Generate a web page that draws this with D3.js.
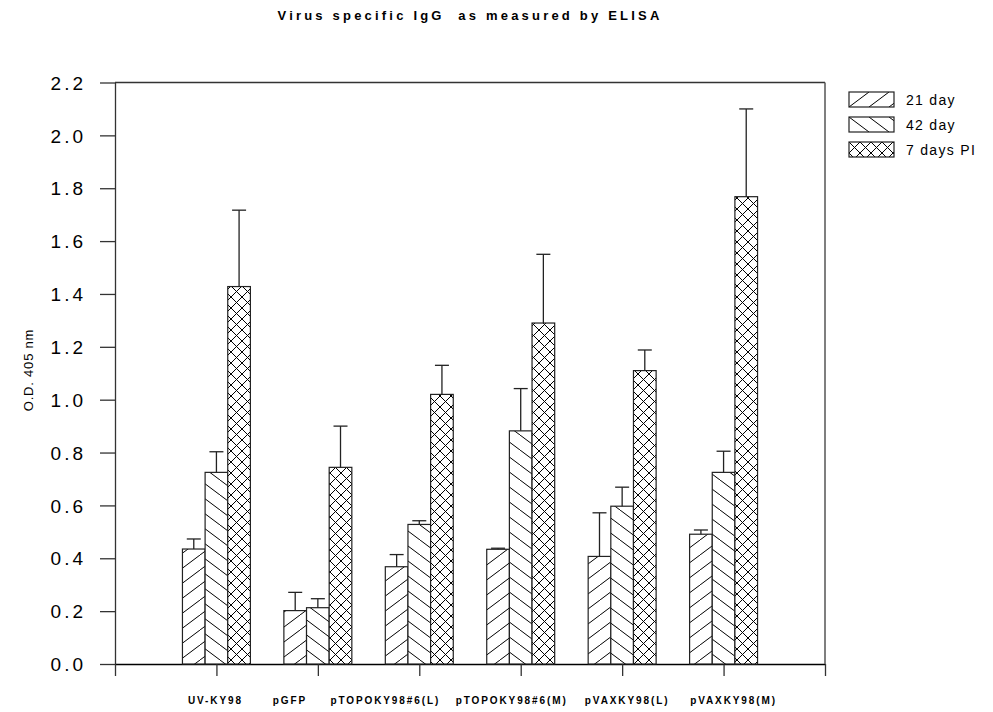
<!DOCTYPE html>
<html>
<head>
<meta charset="utf-8">
<script src="https://cdn.jsdelivr.net/npm/d3@7"></script>
<style>
  body { margin: 0; background: #fff; }
  text { font-family: "Liberation Sans", Arial, sans-serif; fill: #000; }
</style>
</head>
<body>
<div id="chart"></div>
<script>
// data
var groups = ["UV-KY98", "pGFP", "pTOPOKY98#6(L)", "pTOPOKY98#6(M)", "pVAXKY98(L)", "pVAXKY98(M)"];
var seriesNames = ["21 day", "42 day", "7 days PI"];
var day21 = [0.435, 0.202, 0.368, 0.434, 0.407, 0.491];
var day21Err = [0.038, 0.069, 0.046, 0.004, 0.165, 0.016];
var day42 = [0.725, 0.213, 0.528, 0.882, 0.597, 0.725];
var day42Err = [0.078, 0.034, 0.014, 0.160, 0.072, 0.080];
var day7PI = [1.428, 0.744, 1.020, 1.290, 1.110, 1.768];
var day7PIErr = [0.289, 0.156, 0.110, 0.260, 0.078, 0.332];
var yTicks = [0, 0.2, 0.4, 0.6, 0.8, 1.0, 1.2, 1.4, 1.6, 1.8, 2.0, 2.2];

var values = [day21, day42, day7PI];
var errs = [day21Err, day42Err, day7PIErr];
var patterns = ["p21", "p42", "p7"];

var width = 993, height = 712;
var svg = d3.select("#chart").append("svg")
  .attr("width", width).attr("height", height);

var defs = svg.append("defs");
// forward hatch
var p = defs.append("pattern").attr("id", "p21").attr("patternUnits", "userSpaceOnUse")
  .attr("width", 20).attr("height", 15);
p.append("rect").attr("width", 20).attr("height", 15).attr("fill", "#fff");
p.append("line").attr("x1", 0).attr("y1", 15).attr("x2", 20).attr("y2", 0).attr("stroke", "#000").attr("stroke-width", 1);
// back hatch
p = defs.append("pattern").attr("id", "p42").attr("patternUnits", "userSpaceOnUse")
  .attr("width", 20).attr("height", 15);
p.append("rect").attr("width", 20).attr("height", 15).attr("fill", "#fff");
p.append("line").attr("x1", 0).attr("y1", 0).attr("x2", 20).attr("y2", 15).attr("stroke", "#000").attr("stroke-width", 1);
// crosshatch
p = defs.append("pattern").attr("id", "p7").attr("patternUnits", "userSpaceOnUse")
  .attr("width", 11).attr("height", 11);
p.append("rect").attr("width", 11).attr("height", 11).attr("fill", "#fff");
p.append("line").attr("x1", 0).attr("y1", 0).attr("x2", 11).attr("y2", 11).attr("stroke", "#000");
p.append("line").attr("x1", 0).attr("y1", 11).attr("x2", 11).attr("y2", 0).attr("stroke", "#000");

var x = d3.scaleLinear().domain([0, 7]).range([115, 825]);
var y = d3.scaleLinear().domain([0, 2.2]).range([664, 82.5]);
var inner = d3.scaleBand().domain(seriesNames).range([-0.335, 0.335]);

// title
svg.append("text").attr("x", 470).attr("y", 20).attr("text-anchor", "middle")
  .attr("xml:space", "preserve")
  .style("font-size", "13px").style("font-weight", "bold").style("letter-spacing", "3.2px")
  .text("Virus specific IgG  as measured by ELISA");

// y axis
var yAxis = svg.append("g").attr("transform", "translate(115,0)")
  .call(d3.axisLeft(y).tickValues(yTicks).tickFormat(d3.format(".1f")).tickSize(15).tickSizeOuter(0).tickPadding(14));
yAxis.selectAll("text").style("font-size", "19px").style("letter-spacing", "3px").attr("dy", "0.35em");
yAxis.selectAll("line, path").attr("stroke", "#333").attr("stroke-width", 1.3);

// x axis
var xAxis = svg.append("g").attr("transform", "translate(0,664)")
  .call(d3.axisBottom(x).tickValues(d3.range(0, 8)).tickFormat("").tickSize(12).tickSizeOuter(0));
xAxis.selectAll("line").attr("stroke", "#333").attr("stroke-width", 1.3);
xAxis.select("path").attr("stroke", "#000").attr("stroke-width", 1.5);

// frame top & right
svg.append("line").attr("x1", 115).attr("x2", x(7)).attr("y1", y(2.2)).attr("y2", y(2.2)).attr("stroke", "#333").attr("stroke-width", 1.3);
svg.append("line").attr("x1", x(7)).attr("x2", x(7)).attr("y1", y(2.2)).attr("y2", 664).attr("stroke", "#555").attr("stroke-width", 1.5);

// y label
svg.append("text").attr("transform", "translate(33,370) rotate(-90)").attr("text-anchor", "middle")
  .style("font-size", "13px").style("letter-spacing", "0.8px").text("O.D. 405 nm");

// category labels (the original nudges them, not quite under the ticks)
var labelNudge = [-1, -28, -34, -9, 5, 10];
svg.append("g").selectAll("text").data(groups).enter().append("text")
  .attr("x", function (d, i) { return x(i + 1) + labelNudge[i]; }).attr("y", 704).attr("text-anchor", "middle")
  .style("font-size", "10px").style("font-weight", "bold").style("letter-spacing", "1.9px")
  .text(function (d) { return d; });

// bars + error bars
seriesNames.forEach(function (s, si) {
  var g = svg.append("g");
  var bw = x(inner.bandwidth()) - x(0);
  g.selectAll("rect").data(values[si]).enter().append("rect")
    .attr("x", function (d, i) { return x(i + 1 + inner(s)); })
    .attr("y", function (d) { return y(d); })
    .attr("width", bw)
    .attr("height", function (d) { return y(0) - y(d); })
    .attr("fill", "url(#" + patterns[si] + ")")
    .attr("stroke", "#222").attr("stroke-width", 1.2);
  var eg = svg.append("g").attr("stroke", "#222").attr("stroke-width", 1.3);
  values[si].forEach(function (v, i) {
    var cx = x(i + 1 + inner(s)) + bw / 2;
    var top = y(v + errs[si][i]);
    eg.append("line").attr("x1", cx).attr("x2", cx).attr("y1", y(v)).attr("y2", top);
    eg.append("line").attr("x1", cx - 7).attr("x2", cx + 7).attr("y1", top).attr("y2", top);
  });
});

// legend
var leg = svg.append("g").selectAll("g").data(seriesNames).enter().append("g")
  .attr("transform", function (d, i) { return "translate(849," + (92 + i * 25) + ")"; });
leg.append("rect").attr("width", 45).attr("height", 15)
  .attr("fill", function (d, i) { return "url(#" + patterns[i] + ")"; })
  .attr("stroke", "#222").attr("stroke-width", 1.2);
leg.append("text").attr("x", 57).attr("y", 13).style("font-size", "14px").style("letter-spacing", "1.3px")
  .text(function (d) { return d; });
</script>
</body>
</html>
